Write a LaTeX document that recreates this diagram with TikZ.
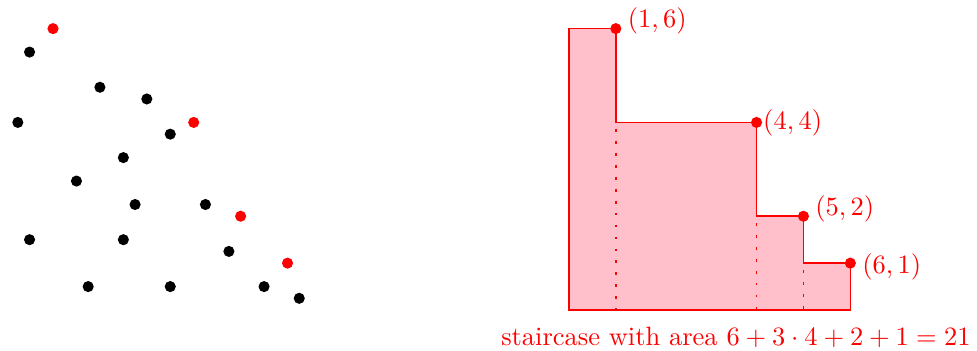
\documentclass[tikz,border=0pt]{standalone}
\definecolor{stairpink}{RGB}{255,192,203}
\begin{document}
\begin{tikzpicture}[x=0.623cm,y=0.623cm,
  blackpt/.style={circle,fill=black,inner sep=0pt,minimum size=4.2pt},
  redpt/.style={circle,fill=red,inner sep=0pt,minimum size=4.2pt},
  lab/.style={anchor=west,text=red,inner sep=3.33pt},
  stair/.style={fill=stairpink,draw=red,semithick},
  guide/.style={red,line width=0.6pt,dash pattern=on 1pt off 3.5pt}]
\useasboundingbox (-0.13,-0.853) rectangle (20.70,6.61);
% scatter points
\foreach \p [count=\i] in {(0.5,5.5),(2,4.75),(3,4.5),(0.25,4),(3.5,3.75),(2.5,3.25),(1.5,2.75),(2.75,2.25),(4.25,2.25),(0.5,1.5),(2.5,1.5),(4.75,1.25),(1.75,0.5),(3.5,0.5),(5.5,0.5),(6.25,0.25)}
  \node[blackpt] (b\i) at \p {};
\node[redpt] (r1) at (1,6) {};
\node[redpt] (r2) at (4,4) {};
\node[redpt] (r3) at (5,2) {};
\node[redpt] (r4) at (6,1) {};
% staircase
\draw[stair] (12,0) -- (12,6) -- (13,6) -- (13,4) -- (16,4) -- (16,2) -- (17,2) -- (17,1) -- (18,1) -- (18,0) -- cycle;
\coordinate (g1t) at (13,3.85); \coordinate (g1b) at (13,0);
\coordinate (g2t) at (16,1.85); \coordinate (g2b) at (16,0);
\coordinate (g3t) at (17,0.85); \coordinate (g3b) at (17,0);
\draw[guide] (g1t) -- (g1b);
\draw[guide] (g2t) -- (g2b);
\draw[guide] (g3t) -- (g3b);
\node[redpt] (c1) at (13,6) {};
\node[redpt] (c2) at (16,4) {};
\node[redpt] (c3) at (17,2) {};
\node[redpt] (c4) at (18,1) {};
\node[lab,yshift=3pt,xshift=1pt] (l1) at (c1.center) {$(1,6)$};
\node[lab,xshift=-1pt] (l2) at (c2.center) {$(4,4)$};
\node[lab,yshift=2.7pt,xshift=1pt] (l3) at (c3.center) {$(5,2)$};
\node[lab,yshift=-1.5pt,xshift=1pt] (l4) at (c4.center) {$(6,1)$};
\node[anchor=base,text=red] (cap) at (15.56,-0.746) {staircase with area $6+3\cdot4+2+1=21$};
\end{tikzpicture}
\end{document}
